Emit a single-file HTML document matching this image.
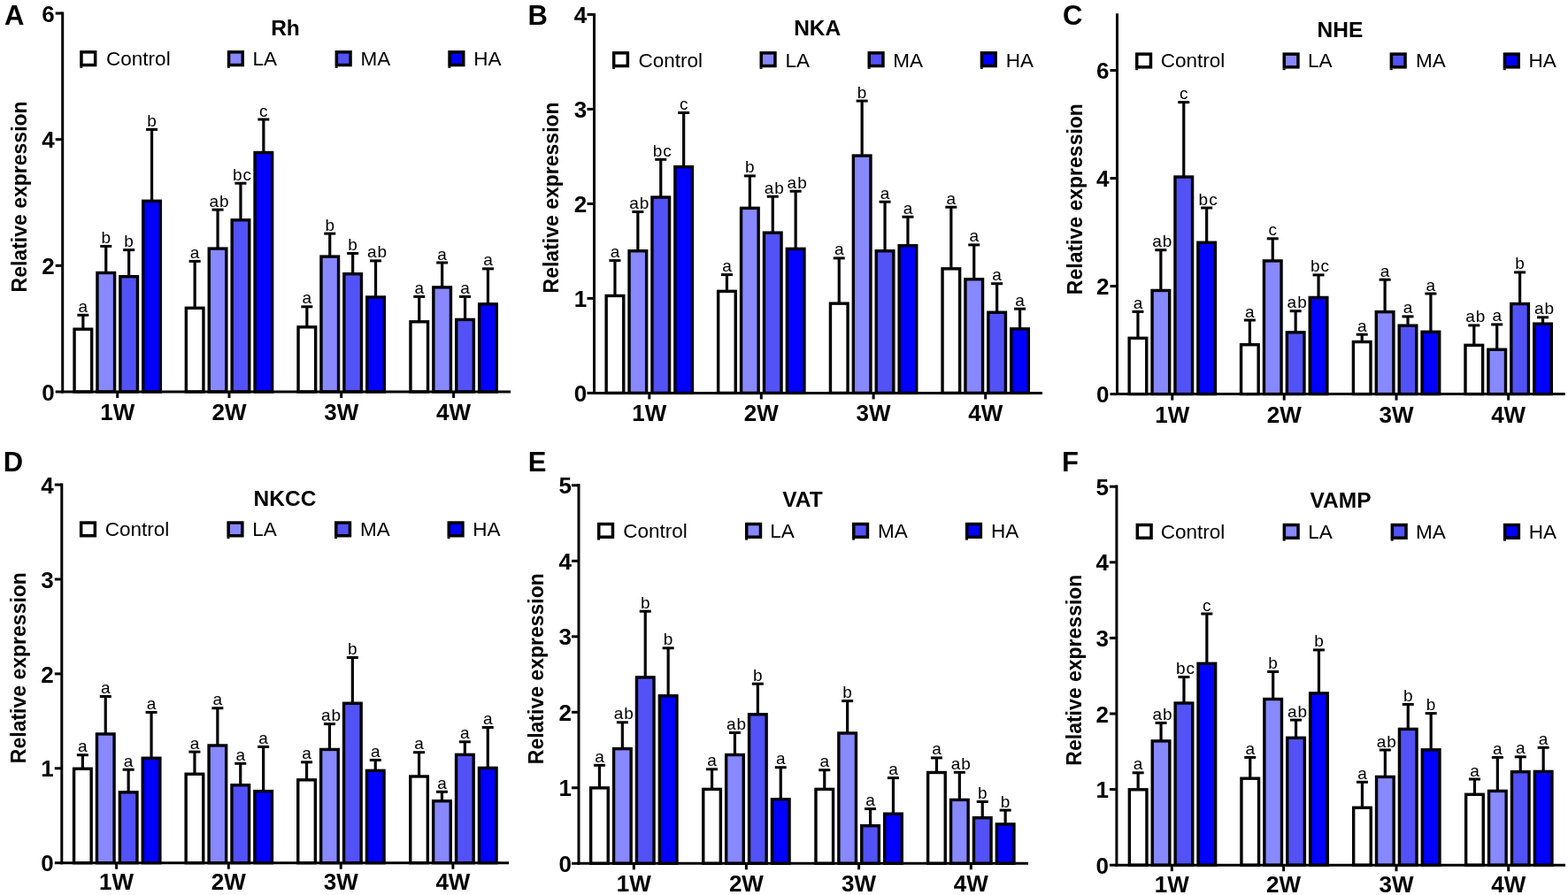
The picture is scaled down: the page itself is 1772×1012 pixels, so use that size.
<!DOCTYPE html>
<html><head><meta charset="utf-8"><title>Relative expression</title>
<style>
html,body{margin:0;padding:0;background:#fff;}
svg{display:block;}
text{font-family:"Liberation Sans",Arial,Helvetica,sans-serif;fill:#000;}
.b{stroke:#000;stroke-width:3.4px;}
.e{stroke:#000;stroke-width:3.2px;}
.c{stroke:#000;stroke-width:3px;}
.ax{stroke:#000;stroke-width:3.0px;}
.l{font-size:19px;letter-spacing:1px;text-anchor:middle;}
.tk{font-size:26px;font-weight:bold;text-anchor:end;}
.xl{font-size:26px;font-weight:bold;text-anchor:middle;}
.ti{font-size:24.5px;font-weight:bold;text-anchor:middle;}
.pl{font-size:31px;font-weight:bold;}
.yt{font-size:23px;font-weight:bold;text-anchor:middle;}
.lt{font-size:22.5px;}
.lg{stroke:#000;stroke-width:3.5px;}
</style></head>
<body>
<svg width="1772" height="1012" viewBox="0 0 1772 1012">
<rect x="0" y="0" width="1772" height="1012" fill="#fff"/>
<line x1="93.85" y1="371.5" x2="93.85" y2="356.3" class="e"/>
<line x1="87.35" y1="356.3" x2="100.35" y2="356.3" class="c"/>
<rect x="84.05" y="372.2" width="19.6" height="70.8" fill="#ffffff" class="b"/>
<text x="94.35" y="352.8" class="l">a</text>
<line x1="119.75" y1="307.8" x2="119.75" y2="278.4" class="e"/>
<line x1="113.25" y1="278.4" x2="126.25" y2="278.4" class="c"/>
<rect x="109.95" y="308.5" width="19.6" height="134.5" fill="#8888ff" class="b"/>
<text x="120.25" y="274.9" class="l">b</text>
<line x1="145.65" y1="312" x2="145.65" y2="282.6" class="e"/>
<line x1="139.15" y1="282.6" x2="152.15" y2="282.6" class="c"/>
<rect x="135.85" y="312.7" width="19.6" height="130.3" fill="#5252f6" class="b"/>
<text x="146.15" y="279.1" class="l">b</text>
<line x1="171.55" y1="226.6" x2="171.55" y2="146.4" class="e"/>
<line x1="165.05" y1="146.4" x2="178.05" y2="146.4" class="c"/>
<rect x="161.75" y="227.3" width="19.6" height="215.7" fill="#0000ff" class="b"/>
<text x="172.05" y="142.9" class="l">b</text>
<line x1="220.15" y1="347.6" x2="220.15" y2="295.4" class="e"/>
<line x1="213.65" y1="295.4" x2="226.65" y2="295.4" class="c"/>
<rect x="210.35" y="348.3" width="19.6" height="94.7" fill="#ffffff" class="b"/>
<text x="220.65" y="291.9" class="l">a</text>
<line x1="246.05" y1="280.4" x2="246.05" y2="237.1" class="e"/>
<line x1="239.55" y1="237.1" x2="252.55" y2="237.1" class="c"/>
<rect x="236.25" y="281.1" width="19.6" height="161.9" fill="#8888ff" class="b"/>
<text x="248.05" y="233.6" class="l">ab</text>
<line x1="271.95" y1="248.1" x2="271.95" y2="207.2" class="e"/>
<line x1="265.45" y1="207.2" x2="278.45" y2="207.2" class="c"/>
<rect x="262.15" y="248.8" width="19.6" height="194.2" fill="#5252f6" class="b"/>
<text x="273.95" y="203.7" class="l">bc</text>
<line x1="297.85" y1="171.8" x2="297.85" y2="135" class="e"/>
<line x1="291.35" y1="135" x2="304.35" y2="135" class="c"/>
<rect x="288.05" y="172.5" width="19.6" height="270.5" fill="#0000ff" class="b"/>
<text x="298.35" y="131.5" class="l">c</text>
<line x1="346.85" y1="369.1" x2="346.85" y2="346.8" class="e"/>
<line x1="340.35" y1="346.8" x2="353.35" y2="346.8" class="c"/>
<rect x="337.05" y="369.8" width="19.6" height="73.2" fill="#ffffff" class="b"/>
<text x="347.35" y="343.3" class="l">a</text>
<line x1="372.75" y1="289.4" x2="372.75" y2="264.1" class="e"/>
<line x1="366.25" y1="264.1" x2="379.25" y2="264.1" class="c"/>
<rect x="362.95" y="290.1" width="19.6" height="152.9" fill="#8888ff" class="b"/>
<text x="373.25" y="260.6" class="l">b</text>
<line x1="398.65" y1="309" x2="398.65" y2="286.5" class="e"/>
<line x1="392.15" y1="286.5" x2="405.15" y2="286.5" class="c"/>
<rect x="388.85" y="309.7" width="19.6" height="133.3" fill="#5252f6" class="b"/>
<text x="399.15" y="283" class="l">b</text>
<line x1="424.55" y1="335.3" x2="424.55" y2="294.9" class="e"/>
<line x1="418.05" y1="294.9" x2="431.05" y2="294.9" class="c"/>
<rect x="414.75" y="336" width="19.6" height="107" fill="#0000ff" class="b"/>
<text x="426.55" y="291.4" class="l">ab</text>
<line x1="473.75" y1="363.1" x2="473.75" y2="335.4" class="e"/>
<line x1="467.25" y1="335.4" x2="480.25" y2="335.4" class="c"/>
<rect x="463.95" y="363.8" width="19.6" height="79.2" fill="#ffffff" class="b"/>
<text x="474.25" y="331.9" class="l">a</text>
<line x1="499.65" y1="324.2" x2="499.65" y2="297" class="e"/>
<line x1="493.15" y1="297" x2="506.15" y2="297" class="c"/>
<rect x="489.85" y="324.9" width="19.6" height="118.1" fill="#8888ff" class="b"/>
<text x="500.15" y="293.5" class="l">a</text>
<line x1="525.55" y1="360.7" x2="525.55" y2="335.4" class="e"/>
<line x1="519.05" y1="335.4" x2="532.05" y2="335.4" class="c"/>
<rect x="515.75" y="361.4" width="19.6" height="81.6" fill="#5252f6" class="b"/>
<text x="526.05" y="331.9" class="l">a</text>
<line x1="551.45" y1="343.1" x2="551.45" y2="303.9" class="e"/>
<line x1="544.95" y1="303.9" x2="557.95" y2="303.9" class="c"/>
<rect x="541.65" y="343.8" width="19.6" height="99.2" fill="#0000ff" class="b"/>
<text x="551.95" y="300.4" class="l">a</text>
<line x1="70.7" y1="13.5" x2="70.7" y2="444.5" class="ax"/>
<line x1="69.2" y1="443" x2="577" y2="443" class="ax"/>
<line x1="62.7" y1="443" x2="70.7" y2="443" class="ax"/>
<text x="61.7" y="452.6" class="tk">0</text>
<line x1="62.7" y1="300.34" x2="70.7" y2="300.34" class="ax"/>
<text x="61.7" y="309.94" class="tk">2</text>
<line x1="62.7" y1="157.68" x2="70.7" y2="157.68" class="ax"/>
<text x="61.7" y="167.28" class="tk">4</text>
<line x1="62.7" y1="15.02" x2="70.7" y2="15.02" class="ax"/>
<text x="61.7" y="24.62" class="tk">6</text>
<line x1="132.7" y1="443" x2="132.7" y2="450" class="ax"/>
<text x="132.7" y="475" class="xl">1W</text>
<line x1="259" y1="443" x2="259" y2="450" class="ax"/>
<text x="259" y="475" class="xl">2W</text>
<line x1="385.7" y1="443" x2="385.7" y2="450" class="ax"/>
<text x="385.7" y="475" class="xl">3W</text>
<line x1="512.6" y1="443" x2="512.6" y2="450" class="ax"/>
<text x="512.6" y="475" class="xl">4W</text>
<text x="322.5" y="39.8" class="ti">Rh</text>
<text x="4.9" y="27.9" class="pl">A</text>
<text transform="translate(30.1 222.4) rotate(-90)" class="yt">Relative expression</text>
<rect x="91.95" y="58.85" width="15.7" height="14.7" fill="#ffffff" class="lg"/>
<rect x="90.3" y="75.2" width="3" height="1.7" fill="#000"/>
<text x="120.1" y="74" class="lt">Control</text>
<rect x="258.55" y="58.85" width="15.7" height="14.7" fill="#8888ff" class="lg"/>
<rect x="256.9" y="75.2" width="3" height="1.7" fill="#000"/>
<text x="285.5" y="74" class="lt">LA</text>
<rect x="380.35" y="58.85" width="15.7" height="14.7" fill="#5252f6" class="lg"/>
<rect x="378.7" y="75.2" width="3" height="1.7" fill="#000"/>
<text x="407.6" y="74" class="lt">MA</text>
<rect x="508.05" y="58.85" width="15.7" height="14.7" fill="#0000ff" class="lg"/>
<rect x="506.4" y="75.2" width="3" height="1.7" fill="#000"/>
<text x="535.3" y="74" class="lt">HA</text>
<line x1="694.95" y1="333.75" x2="694.95" y2="294.6" class="e"/>
<line x1="688.45" y1="294.6" x2="701.45" y2="294.6" class="c"/>
<rect x="685.15" y="334.45" width="19.6" height="109.95" fill="#ffffff" class="b"/>
<text x="695.45" y="291.1" class="l">a</text>
<line x1="720.85" y1="283.05" x2="720.85" y2="239.5" class="e"/>
<line x1="714.35" y1="239.5" x2="727.35" y2="239.5" class="c"/>
<rect x="711.05" y="283.75" width="19.6" height="160.65" fill="#8888ff" class="b"/>
<text x="722.85" y="236" class="l">ab</text>
<line x1="746.75" y1="222.35" x2="746.75" y2="180.3" class="e"/>
<line x1="740.25" y1="180.3" x2="753.25" y2="180.3" class="c"/>
<rect x="736.95" y="223.05" width="19.6" height="221.35" fill="#5252f6" class="b"/>
<text x="748.75" y="176.8" class="l">bc</text>
<line x1="772.65" y1="187.95" x2="772.65" y2="127.5" class="e"/>
<line x1="766.15" y1="127.5" x2="779.15" y2="127.5" class="c"/>
<rect x="762.85" y="188.65" width="19.6" height="255.75" fill="#0000ff" class="b"/>
<text x="773.15" y="124" class="l">c</text>
<line x1="821.45" y1="328.65" x2="821.45" y2="310.6" class="e"/>
<line x1="814.95" y1="310.6" x2="827.95" y2="310.6" class="c"/>
<rect x="811.65" y="329.35" width="19.6" height="115.05" fill="#ffffff" class="b"/>
<text x="821.95" y="307.1" class="l">a</text>
<line x1="847.35" y1="234.65" x2="847.35" y2="198.9" class="e"/>
<line x1="840.85" y1="198.9" x2="853.85" y2="198.9" class="c"/>
<rect x="837.55" y="235.35" width="19.6" height="209.05" fill="#8888ff" class="b"/>
<text x="847.85" y="195.4" class="l">b</text>
<line x1="873.25" y1="262.45" x2="873.25" y2="222.2" class="e"/>
<line x1="866.75" y1="222.2" x2="879.75" y2="222.2" class="c"/>
<rect x="863.45" y="263.15" width="19.6" height="181.25" fill="#5252f6" class="b"/>
<text x="875.25" y="218.7" class="l">ab</text>
<line x1="899.15" y1="280.65" x2="899.15" y2="216.2" class="e"/>
<line x1="892.65" y1="216.2" x2="905.65" y2="216.2" class="c"/>
<rect x="889.35" y="281.35" width="19.6" height="163.05" fill="#0000ff" class="b"/>
<text x="901.15" y="212.7" class="l">ab</text>
<line x1="948.25" y1="342.45" x2="948.25" y2="291.9" class="e"/>
<line x1="941.75" y1="291.9" x2="954.75" y2="291.9" class="c"/>
<rect x="938.45" y="343.15" width="19.6" height="101.25" fill="#ffffff" class="b"/>
<text x="948.75" y="288.4" class="l">a</text>
<line x1="974.15" y1="175.35" x2="974.15" y2="114.1" class="e"/>
<line x1="967.65" y1="114.1" x2="980.65" y2="114.1" class="c"/>
<rect x="964.35" y="176.05" width="19.6" height="268.35" fill="#8888ff" class="b"/>
<text x="974.65" y="110.6" class="l">b</text>
<line x1="1000.05" y1="283.05" x2="1000.05" y2="228.2" class="e"/>
<line x1="993.55" y1="228.2" x2="1006.55" y2="228.2" class="c"/>
<rect x="990.25" y="283.75" width="19.6" height="160.65" fill="#5252f6" class="b"/>
<text x="1000.55" y="224.7" class="l">a</text>
<line x1="1025.95" y1="277.05" x2="1025.95" y2="245.2" class="e"/>
<line x1="1019.45" y1="245.2" x2="1032.45" y2="245.2" class="c"/>
<rect x="1016.15" y="277.75" width="19.6" height="166.65" fill="#0000ff" class="b"/>
<text x="1026.45" y="241.7" class="l">a</text>
<line x1="1074.85" y1="303.15" x2="1074.85" y2="234.2" class="e"/>
<line x1="1068.35" y1="234.2" x2="1081.35" y2="234.2" class="c"/>
<rect x="1065.05" y="303.85" width="19.6" height="140.55" fill="#ffffff" class="b"/>
<text x="1075.35" y="230.7" class="l">a</text>
<line x1="1100.75" y1="315.05" x2="1100.75" y2="276.9" class="e"/>
<line x1="1094.25" y1="276.9" x2="1107.25" y2="276.9" class="c"/>
<rect x="1090.95" y="315.75" width="19.6" height="128.65" fill="#8888ff" class="b"/>
<text x="1101.25" y="273.4" class="l">a</text>
<line x1="1126.65" y1="352.55" x2="1126.65" y2="320.7" class="e"/>
<line x1="1120.15" y1="320.7" x2="1133.15" y2="320.7" class="c"/>
<rect x="1116.85" y="353.25" width="19.6" height="91.15" fill="#5252f6" class="b"/>
<text x="1127.15" y="317.2" class="l">a</text>
<line x1="1152.55" y1="371.15" x2="1152.55" y2="349.2" class="e"/>
<line x1="1146.05" y1="349.2" x2="1159.05" y2="349.2" class="c"/>
<rect x="1142.75" y="371.85" width="19.6" height="72.55" fill="#0000ff" class="b"/>
<text x="1153.05" y="345.7" class="l">a</text>
<line x1="671.5" y1="14.9" x2="671.5" y2="445.9" class="ax"/>
<line x1="670" y1="444.4" x2="1178" y2="444.4" class="ax"/>
<line x1="663.5" y1="444.4" x2="671.5" y2="444.4" class="ax"/>
<text x="663.3" y="454" class="tk">0</text>
<line x1="663.5" y1="337.4" x2="671.5" y2="337.4" class="ax"/>
<text x="663.3" y="347" class="tk">1</text>
<line x1="663.5" y1="230.4" x2="671.5" y2="230.4" class="ax"/>
<text x="663.3" y="240" class="tk">2</text>
<line x1="663.5" y1="123.4" x2="671.5" y2="123.4" class="ax"/>
<text x="663.3" y="133" class="tk">3</text>
<line x1="663.5" y1="16.4" x2="671.5" y2="16.4" class="ax"/>
<text x="663.3" y="26" class="tk">4</text>
<line x1="733.8" y1="444.4" x2="733.8" y2="451.4" class="ax"/>
<text x="733.8" y="476" class="xl">1W</text>
<line x1="860.3" y1="444.4" x2="860.3" y2="451.4" class="ax"/>
<text x="860.3" y="476" class="xl">2W</text>
<line x1="987.1" y1="444.4" x2="987.1" y2="451.4" class="ax"/>
<text x="987.1" y="476" class="xl">3W</text>
<line x1="1113.7" y1="444.4" x2="1113.7" y2="451.4" class="ax"/>
<text x="1113.7" y="476" class="xl">4W</text>
<text x="923.7" y="40.4" class="ti">NKA</text>
<text x="596.6" y="27.9" class="pl">B</text>
<text transform="translate(631.3 223.4) rotate(-90)" class="yt">Relative expression</text>
<rect x="693.65" y="59.85" width="15.7" height="14.7" fill="#ffffff" class="lg"/>
<rect x="692" y="76.2" width="3" height="1.7" fill="#000"/>
<text x="721.5" y="75.7" class="lt">Control</text>
<rect x="860.25" y="59.85" width="15.7" height="14.7" fill="#8888ff" class="lg"/>
<rect x="858.6" y="76.2" width="3" height="1.7" fill="#000"/>
<text x="887.5" y="75.7" class="lt">LA</text>
<rect x="982.25" y="59.85" width="15.7" height="14.7" fill="#5252f6" class="lg"/>
<rect x="980.6" y="76.2" width="3" height="1.7" fill="#000"/>
<text x="1009.2" y="75.7" class="lt">MA</text>
<rect x="1109.45" y="59.85" width="15.7" height="14.7" fill="#0000ff" class="lg"/>
<rect x="1107.8" y="76.2" width="3" height="1.7" fill="#000"/>
<text x="1136.7" y="75.7" class="lt">HA</text>
<line x1="1285.95" y1="381.65" x2="1285.95" y2="352.4" class="e"/>
<line x1="1279.45" y1="352.4" x2="1292.45" y2="352.4" class="c"/>
<rect x="1276.15" y="382.35" width="19.6" height="63.25" fill="#ffffff" class="b"/>
<text x="1286.45" y="348.9" class="l">a</text>
<line x1="1311.85" y1="327.75" x2="1311.85" y2="282.7" class="e"/>
<line x1="1305.35" y1="282.7" x2="1318.35" y2="282.7" class="c"/>
<rect x="1302.05" y="328.45" width="19.6" height="117.15" fill="#8888ff" class="b"/>
<text x="1313.85" y="279.2" class="l">ab</text>
<line x1="1337.75" y1="199.35" x2="1337.75" y2="115.6" class="e"/>
<line x1="1331.25" y1="115.6" x2="1344.25" y2="115.6" class="c"/>
<rect x="1327.95" y="200.05" width="19.6" height="245.55" fill="#5252f6" class="b"/>
<text x="1338.25" y="112.1" class="l">c</text>
<line x1="1363.65" y1="273.55" x2="1363.65" y2="235" class="e"/>
<line x1="1357.15" y1="235" x2="1370.15" y2="235" class="c"/>
<rect x="1353.85" y="274.25" width="19.6" height="171.35" fill="#0000ff" class="b"/>
<text x="1365.65" y="231.5" class="l">bc</text>
<line x1="1412.35" y1="389.05" x2="1412.35" y2="362" class="e"/>
<line x1="1405.85" y1="362" x2="1418.85" y2="362" class="c"/>
<rect x="1402.55" y="389.75" width="19.6" height="55.85" fill="#ffffff" class="b"/>
<text x="1412.85" y="358.5" class="l">a</text>
<line x1="1438.25" y1="294.25" x2="1438.25" y2="269.8" class="e"/>
<line x1="1431.75" y1="269.8" x2="1444.75" y2="269.8" class="c"/>
<rect x="1428.45" y="294.95" width="19.6" height="150.65" fill="#8888ff" class="b"/>
<text x="1438.75" y="266.3" class="l">c</text>
<line x1="1464.15" y1="375.15" x2="1464.15" y2="351.7" class="e"/>
<line x1="1457.65" y1="351.7" x2="1470.65" y2="351.7" class="c"/>
<rect x="1454.35" y="375.85" width="19.6" height="69.75" fill="#5252f6" class="b"/>
<text x="1466.15" y="348.2" class="l">ab</text>
<line x1="1490.05" y1="335.75" x2="1490.05" y2="310.9" class="e"/>
<line x1="1483.55" y1="310.9" x2="1496.55" y2="310.9" class="c"/>
<rect x="1480.25" y="336.45" width="19.6" height="109.15" fill="#0000ff" class="b"/>
<text x="1492.05" y="307.4" class="l">bc</text>
<line x1="1539.2" y1="385.85" x2="1539.2" y2="378.2" class="e"/>
<line x1="1532.7" y1="378.2" x2="1545.7" y2="378.2" class="c"/>
<rect x="1529.4" y="386.55" width="19.6" height="59.05" fill="#ffffff" class="b"/>
<text x="1539.7" y="374.7" class="l">a</text>
<line x1="1565.1" y1="351.95" x2="1565.1" y2="316.2" class="e"/>
<line x1="1558.6" y1="316.2" x2="1571.6" y2="316.2" class="c"/>
<rect x="1555.3" y="352.65" width="19.6" height="92.95" fill="#8888ff" class="b"/>
<text x="1565.6" y="312.7" class="l">a</text>
<line x1="1591" y1="367.45" x2="1591" y2="357.9" class="e"/>
<line x1="1584.5" y1="357.9" x2="1597.5" y2="357.9" class="c"/>
<rect x="1581.2" y="368.15" width="19.6" height="77.45" fill="#5252f6" class="b"/>
<text x="1591.5" y="354.4" class="l">a</text>
<line x1="1616.9" y1="374.55" x2="1616.9" y2="332" class="e"/>
<line x1="1610.4" y1="332" x2="1623.4" y2="332" class="c"/>
<rect x="1607.1" y="375.25" width="19.6" height="70.35" fill="#0000ff" class="b"/>
<text x="1617.4" y="328.5" class="l">a</text>
<line x1="1665.8" y1="389.65" x2="1665.8" y2="367.9" class="e"/>
<line x1="1659.3" y1="367.9" x2="1672.3" y2="367.9" class="c"/>
<rect x="1656" y="390.35" width="19.6" height="55.25" fill="#ffffff" class="b"/>
<text x="1667.8" y="364.4" class="l">ab</text>
<line x1="1691.7" y1="394.55" x2="1691.7" y2="366.9" class="e"/>
<line x1="1685.2" y1="366.9" x2="1698.2" y2="366.9" class="c"/>
<rect x="1681.9" y="395.25" width="19.6" height="50.35" fill="#8888ff" class="b"/>
<text x="1692.2" y="363.4" class="l">a</text>
<line x1="1717.6" y1="342.85" x2="1717.6" y2="307.9" class="e"/>
<line x1="1711.1" y1="307.9" x2="1724.1" y2="307.9" class="c"/>
<rect x="1707.8" y="343.55" width="19.6" height="102.05" fill="#5252f6" class="b"/>
<text x="1718.1" y="304.4" class="l">b</text>
<line x1="1743.5" y1="365.45" x2="1743.5" y2="358.8" class="e"/>
<line x1="1737" y1="358.8" x2="1750" y2="358.8" class="c"/>
<rect x="1733.7" y="366.15" width="19.6" height="79.45" fill="#0000ff" class="b"/>
<text x="1745.5" y="355.3" class="l">ab</text>
<line x1="1262.5" y1="15.3" x2="1262.5" y2="447.1" class="ax"/>
<line x1="1261" y1="445.6" x2="1768.8" y2="445.6" class="ax"/>
<line x1="1254.5" y1="445.6" x2="1262.5" y2="445.6" class="ax"/>
<text x="1253.5" y="455.2" class="tk">0</text>
<line x1="1254.5" y1="323.6" x2="1262.5" y2="323.6" class="ax"/>
<text x="1253.5" y="333.2" class="tk">2</text>
<line x1="1254.5" y1="201.6" x2="1262.5" y2="201.6" class="ax"/>
<text x="1253.5" y="211.2" class="tk">4</text>
<line x1="1254.5" y1="79.6" x2="1262.5" y2="79.6" class="ax"/>
<text x="1253.5" y="89.2" class="tk">6</text>
<line x1="1324.8" y1="445.6" x2="1324.8" y2="452.6" class="ax"/>
<text x="1324.8" y="477.5" class="xl">1W</text>
<line x1="1451.2" y1="445.6" x2="1451.2" y2="452.6" class="ax"/>
<text x="1451.2" y="477.5" class="xl">2W</text>
<line x1="1578.05" y1="445.6" x2="1578.05" y2="452.6" class="ax"/>
<text x="1578.05" y="477.5" class="xl">3W</text>
<line x1="1704.65" y1="445.6" x2="1704.65" y2="452.6" class="ax"/>
<text x="1704.65" y="477.5" class="xl">4W</text>
<text x="1514.4" y="42" class="ti">NHE</text>
<text x="1200.9" y="28.2" class="pl">C</text>
<text transform="translate(1222.8 225.1) rotate(-90)" class="yt">Relative expression</text>
<rect x="1284.75" y="61.15" width="15.7" height="14.7" fill="#ffffff" class="lg"/>
<rect x="1283.1" y="77.5" width="3" height="1.7" fill="#000"/>
<text x="1311.8" y="76.4" class="lt">Control</text>
<rect x="1451.25" y="61.15" width="15.7" height="14.7" fill="#8888ff" class="lg"/>
<rect x="1449.6" y="77.5" width="3" height="1.7" fill="#000"/>
<text x="1478.1" y="76.4" class="lt">LA</text>
<rect x="1572.35" y="61.15" width="15.7" height="14.7" fill="#5252f6" class="lg"/>
<rect x="1570.7" y="77.5" width="3" height="1.7" fill="#000"/>
<text x="1600.1" y="76.4" class="lt">MA</text>
<rect x="1700.45" y="61.15" width="15.7" height="14.7" fill="#0000ff" class="lg"/>
<rect x="1698.8" y="77.5" width="3" height="1.7" fill="#000"/>
<text x="1727.6" y="76.4" class="lt">HA</text>
<line x1="93.35" y1="868.55" x2="93.35" y2="853.7" class="e"/>
<line x1="86.85" y1="853.7" x2="99.85" y2="853.7" class="c"/>
<rect x="83.55" y="869.25" width="19.6" height="106.45" fill="#ffffff" class="b"/>
<text x="93.85" y="850.2" class="l">a</text>
<line x1="119.25" y1="829.25" x2="119.25" y2="787.5" class="e"/>
<line x1="112.75" y1="787.5" x2="125.75" y2="787.5" class="c"/>
<rect x="109.45" y="829.95" width="19.6" height="145.75" fill="#8888ff" class="b"/>
<text x="119.75" y="784" class="l">a</text>
<line x1="145.15" y1="895.15" x2="145.15" y2="870.2" class="e"/>
<line x1="138.65" y1="870.2" x2="151.65" y2="870.2" class="c"/>
<rect x="135.35" y="895.85" width="19.6" height="79.85" fill="#5252f6" class="b"/>
<text x="145.65" y="866.7" class="l">a</text>
<line x1="171.05" y1="856.55" x2="171.05" y2="805.4" class="e"/>
<line x1="164.55" y1="805.4" x2="177.55" y2="805.4" class="c"/>
<rect x="161.25" y="857.25" width="19.6" height="118.45" fill="#0000ff" class="b"/>
<text x="171.55" y="801.9" class="l">a</text>
<line x1="219.95" y1="874.55" x2="219.95" y2="850.1" class="e"/>
<line x1="213.45" y1="850.1" x2="226.45" y2="850.1" class="c"/>
<rect x="210.15" y="875.25" width="19.6" height="100.45" fill="#ffffff" class="b"/>
<text x="220.45" y="846.6" class="l">a</text>
<line x1="245.85" y1="842.25" x2="245.85" y2="800.7" class="e"/>
<line x1="239.35" y1="800.7" x2="252.35" y2="800.7" class="c"/>
<rect x="236.05" y="842.95" width="19.6" height="132.75" fill="#8888ff" class="b"/>
<text x="246.35" y="797.2" class="l">a</text>
<line x1="271.75" y1="887.05" x2="271.75" y2="863.3" class="e"/>
<line x1="265.25" y1="863.3" x2="278.25" y2="863.3" class="c"/>
<rect x="261.95" y="887.75" width="19.6" height="87.95" fill="#5252f6" class="b"/>
<text x="272.25" y="859.8" class="l">a</text>
<line x1="297.65" y1="893.95" x2="297.65" y2="844.4" class="e"/>
<line x1="291.15" y1="844.4" x2="304.15" y2="844.4" class="c"/>
<rect x="287.85" y="894.65" width="19.6" height="81.05" fill="#0000ff" class="b"/>
<text x="298.15" y="840.9" class="l">a</text>
<line x1="346.55" y1="881.15" x2="346.55" y2="861.8" class="e"/>
<line x1="340.05" y1="861.8" x2="353.05" y2="861.8" class="c"/>
<rect x="336.75" y="881.85" width="19.6" height="93.85" fill="#ffffff" class="b"/>
<text x="347.05" y="858.3" class="l">a</text>
<line x1="372.45" y1="846.75" x2="372.45" y2="818.6" class="e"/>
<line x1="365.95" y1="818.6" x2="378.95" y2="818.6" class="c"/>
<rect x="362.65" y="847.45" width="19.6" height="128.25" fill="#8888ff" class="b"/>
<text x="374.45" y="815.1" class="l">ab</text>
<line x1="398.35" y1="794.55" x2="398.35" y2="743.5" class="e"/>
<line x1="391.85" y1="743.5" x2="404.85" y2="743.5" class="c"/>
<rect x="388.55" y="795.25" width="19.6" height="180.45" fill="#5252f6" class="b"/>
<text x="398.85" y="740" class="l">b</text>
<line x1="424.25" y1="870.65" x2="424.25" y2="859.4" class="e"/>
<line x1="417.75" y1="859.4" x2="430.75" y2="859.4" class="c"/>
<rect x="414.45" y="871.35" width="19.6" height="104.35" fill="#0000ff" class="b"/>
<text x="424.75" y="855.9" class="l">a</text>
<line x1="473.55" y1="877.25" x2="473.55" y2="850.7" class="e"/>
<line x1="467.05" y1="850.7" x2="480.05" y2="850.7" class="c"/>
<rect x="463.75" y="877.95" width="19.6" height="97.75" fill="#ffffff" class="b"/>
<text x="474.05" y="847.2" class="l">a</text>
<line x1="499.45" y1="905.05" x2="499.45" y2="895.3" class="e"/>
<line x1="492.95" y1="895.3" x2="505.95" y2="895.3" class="c"/>
<rect x="489.65" y="905.75" width="19.6" height="69.95" fill="#8888ff" class="b"/>
<text x="499.95" y="891.8" class="l">a</text>
<line x1="525.35" y1="852.65" x2="525.35" y2="838.8" class="e"/>
<line x1="518.85" y1="838.8" x2="531.85" y2="838.8" class="c"/>
<rect x="515.55" y="853.35" width="19.6" height="122.35" fill="#5252f6" class="b"/>
<text x="525.85" y="835.3" class="l">a</text>
<line x1="551.25" y1="867.65" x2="551.25" y2="822.5" class="e"/>
<line x1="544.75" y1="822.5" x2="557.75" y2="822.5" class="c"/>
<rect x="541.45" y="868.35" width="19.6" height="107.35" fill="#0000ff" class="b"/>
<text x="551.75" y="819" class="l">a</text>
<line x1="69.8" y1="546.5" x2="69.8" y2="977.2" class="ax"/>
<line x1="68.3" y1="975.7" x2="575.1" y2="975.7" class="ax"/>
<line x1="61.8" y1="975.7" x2="69.8" y2="975.7" class="ax"/>
<text x="60.8" y="985.3" class="tk">0</text>
<line x1="61.8" y1="868.8" x2="69.8" y2="868.8" class="ax"/>
<text x="60.8" y="878.4" class="tk">1</text>
<line x1="61.8" y1="761.9" x2="69.8" y2="761.9" class="ax"/>
<text x="60.8" y="771.5" class="tk">2</text>
<line x1="61.8" y1="655" x2="69.8" y2="655" class="ax"/>
<text x="60.8" y="664.6" class="tk">3</text>
<line x1="61.8" y1="548.1" x2="69.8" y2="548.1" class="ax"/>
<text x="60.8" y="557.7" class="tk">4</text>
<line x1="131.6" y1="975.7" x2="131.6" y2="982.7" class="ax"/>
<text x="131.6" y="1006.2" class="xl">1W</text>
<line x1="258.3" y1="975.7" x2="258.3" y2="982.7" class="ax"/>
<text x="258.3" y="1006.2" class="xl">2W</text>
<line x1="385.2" y1="975.7" x2="385.2" y2="982.7" class="ax"/>
<text x="385.2" y="1006.2" class="xl">3W</text>
<line x1="511.9" y1="975.7" x2="511.9" y2="982.7" class="ax"/>
<text x="511.9" y="1006.2" class="xl">4W</text>
<text x="322" y="571.6" class="ti">NKCC</text>
<text x="3.7" y="532.9" class="pl">D</text>
<text transform="translate(28.6 755.1) rotate(-90)" class="yt">Relative expression</text>
<rect x="91.65" y="591.05" width="15.7" height="14.7" fill="#ffffff" class="lg"/>
<text x="118.7" y="606" class="lt">Control</text>
<rect x="258.15" y="591.05" width="15.7" height="14.7" fill="#8888ff" class="lg"/>
<rect x="256.5" y="607.4" width="3" height="1.7" fill="#000"/>
<text x="285.2" y="606" class="lt">LA</text>
<rect x="379.75" y="591.05" width="15.7" height="14.7" fill="#5252f6" class="lg"/>
<rect x="378.1" y="607.4" width="3" height="1.7" fill="#000"/>
<text x="407.1" y="606" class="lt">MA</text>
<rect x="507.25" y="591.05" width="15.7" height="14.7" fill="#0000ff" class="lg"/>
<rect x="505.6" y="607.4" width="3" height="1.7" fill="#000"/>
<text x="534.3" y="606" class="lt">HA</text>
<line x1="677.45" y1="890.2" x2="677.45" y2="865.3" class="e"/>
<line x1="670.95" y1="865.3" x2="683.95" y2="865.3" class="c"/>
<rect x="667.65" y="890.9" width="19.6" height="85.4" fill="#ffffff" class="b"/>
<text x="677.95" y="861.8" class="l">a</text>
<line x1="703.35" y1="845.9" x2="703.35" y2="816.8" class="e"/>
<line x1="696.85" y1="816.8" x2="709.85" y2="816.8" class="c"/>
<rect x="693.55" y="846.6" width="19.6" height="129.7" fill="#8888ff" class="b"/>
<text x="705.35" y="813.3" class="l">ab</text>
<line x1="729.25" y1="765.2" x2="729.25" y2="691.2" class="e"/>
<line x1="722.75" y1="691.2" x2="735.75" y2="691.2" class="c"/>
<rect x="719.45" y="765.9" width="19.6" height="210.4" fill="#5252f6" class="b"/>
<text x="729.75" y="687.7" class="l">b</text>
<line x1="755.15" y1="786.1" x2="755.15" y2="732.8" class="e"/>
<line x1="748.65" y1="732.8" x2="761.65" y2="732.8" class="c"/>
<rect x="745.35" y="786.8" width="19.6" height="189.5" fill="#0000ff" class="b"/>
<text x="755.65" y="729.3" class="l">b</text>
<line x1="804.55" y1="891.7" x2="804.55" y2="869.8" class="e"/>
<line x1="798.05" y1="869.8" x2="811.05" y2="869.8" class="c"/>
<rect x="794.75" y="892.4" width="19.6" height="83.9" fill="#ffffff" class="b"/>
<text x="805.05" y="866.3" class="l">a</text>
<line x1="830.45" y1="852.8" x2="830.45" y2="828.5" class="e"/>
<line x1="823.95" y1="828.5" x2="836.95" y2="828.5" class="c"/>
<rect x="820.65" y="853.5" width="19.6" height="122.8" fill="#8888ff" class="b"/>
<text x="832.45" y="825" class="l">ab</text>
<line x1="856.35" y1="807.1" x2="856.35" y2="773.2" class="e"/>
<line x1="849.85" y1="773.2" x2="862.85" y2="773.2" class="c"/>
<rect x="846.55" y="807.8" width="19.6" height="168.5" fill="#5252f6" class="b"/>
<text x="856.85" y="769.7" class="l">b</text>
<line x1="882.25" y1="903.1" x2="882.25" y2="867.7" class="e"/>
<line x1="875.75" y1="867.7" x2="888.75" y2="867.7" class="c"/>
<rect x="872.45" y="903.8" width="19.6" height="72.5" fill="#0000ff" class="b"/>
<text x="882.75" y="864.2" class="l">a</text>
<line x1="931.75" y1="891.7" x2="931.75" y2="870.7" class="e"/>
<line x1="925.25" y1="870.7" x2="938.25" y2="870.7" class="c"/>
<rect x="921.95" y="892.4" width="19.6" height="83.9" fill="#ffffff" class="b"/>
<text x="932.25" y="867.2" class="l">a</text>
<line x1="957.65" y1="828.3" x2="957.65" y2="792.6" class="e"/>
<line x1="951.15" y1="792.6" x2="964.15" y2="792.6" class="c"/>
<rect x="947.85" y="829" width="19.6" height="147.3" fill="#8888ff" class="b"/>
<text x="958.15" y="789.1" class="l">b</text>
<line x1="983.55" y1="933" x2="983.55" y2="914.6" class="e"/>
<line x1="977.05" y1="914.6" x2="990.05" y2="914.6" class="c"/>
<rect x="973.75" y="933.7" width="19.6" height="42.6" fill="#5252f6" class="b"/>
<text x="984.05" y="911.1" class="l">a</text>
<line x1="1009.45" y1="919.5" x2="1009.45" y2="879.6" class="e"/>
<line x1="1002.95" y1="879.6" x2="1015.95" y2="879.6" class="c"/>
<rect x="999.65" y="920.2" width="19.6" height="56.1" fill="#0000ff" class="b"/>
<text x="1009.95" y="876.1" class="l">a</text>
<line x1="1058.45" y1="872.8" x2="1058.45" y2="856.9" class="e"/>
<line x1="1051.95" y1="856.9" x2="1064.95" y2="856.9" class="c"/>
<rect x="1048.65" y="873.5" width="19.6" height="102.8" fill="#ffffff" class="b"/>
<text x="1058.95" y="853.4" class="l">a</text>
<line x1="1084.35" y1="903.7" x2="1084.35" y2="873.3" class="e"/>
<line x1="1077.85" y1="873.3" x2="1090.85" y2="873.3" class="c"/>
<rect x="1074.55" y="904.4" width="19.6" height="71.9" fill="#8888ff" class="b"/>
<text x="1086.35" y="869.8" class="l">ab</text>
<line x1="1110.25" y1="924" x2="1110.25" y2="906.5" class="e"/>
<line x1="1103.75" y1="906.5" x2="1116.75" y2="906.5" class="c"/>
<rect x="1100.45" y="924.7" width="19.6" height="51.6" fill="#5252f6" class="b"/>
<text x="1110.75" y="903" class="l">b</text>
<line x1="1136.15" y1="931.2" x2="1136.15" y2="916.1" class="e"/>
<line x1="1129.65" y1="916.1" x2="1142.65" y2="916.1" class="c"/>
<rect x="1126.35" y="931.9" width="19.6" height="44.4" fill="#0000ff" class="b"/>
<text x="1136.65" y="912.6" class="l">b</text>
<line x1="654" y1="547.1" x2="654" y2="977.8" class="ax"/>
<line x1="652.5" y1="976.3" x2="1162" y2="976.3" class="ax"/>
<line x1="646" y1="976.3" x2="654" y2="976.3" class="ax"/>
<text x="645.9" y="985.9" class="tk">0</text>
<line x1="646" y1="890.8" x2="654" y2="890.8" class="ax"/>
<text x="645.9" y="900.4" class="tk">1</text>
<line x1="646" y1="805.3" x2="654" y2="805.3" class="ax"/>
<text x="645.9" y="814.9" class="tk">2</text>
<line x1="646" y1="719.8" x2="654" y2="719.8" class="ax"/>
<text x="645.9" y="729.4" class="tk">3</text>
<line x1="646" y1="634.3" x2="654" y2="634.3" class="ax"/>
<text x="645.9" y="643.9" class="tk">4</text>
<line x1="646" y1="548.8" x2="654" y2="548.8" class="ax"/>
<text x="645.9" y="558.4" class="tk">5</text>
<line x1="716.3" y1="976.3" x2="716.3" y2="983.3" class="ax"/>
<text x="716.3" y="1008" class="xl">1W</text>
<line x1="843.4" y1="976.3" x2="843.4" y2="983.3" class="ax"/>
<text x="843.4" y="1008" class="xl">2W</text>
<line x1="970.6" y1="976.3" x2="970.6" y2="983.3" class="ax"/>
<text x="970.6" y="1008" class="xl">3W</text>
<line x1="1097.3" y1="976.3" x2="1097.3" y2="983.3" class="ax"/>
<text x="1097.3" y="1008" class="xl">4W</text>
<text x="907" y="573.4" class="ti">VAT</text>
<text x="596.7" y="532.6" class="pl">E</text>
<text transform="translate(614 756.2) rotate(-90)" class="yt">Relative expression</text>
<rect x="676.75" y="592.55" width="15.7" height="14.7" fill="#ffffff" class="lg"/>
<rect x="675.1" y="608.9" width="3" height="1.7" fill="#000"/>
<text x="704.2" y="607.7" class="lt">Control</text>
<rect x="843.75" y="592.55" width="15.7" height="14.7" fill="#8888ff" class="lg"/>
<rect x="842.1" y="608.9" width="3" height="1.7" fill="#000"/>
<text x="870.3" y="607.7" class="lt">LA</text>
<rect x="964.75" y="592.55" width="15.7" height="14.7" fill="#5252f6" class="lg"/>
<rect x="963.1" y="608.9" width="3" height="1.7" fill="#000"/>
<text x="991.9" y="607.7" class="lt">MA</text>
<rect x="1092.65" y="592.55" width="15.7" height="14.7" fill="#0000ff" class="lg"/>
<rect x="1091" y="608.9" width="3" height="1.7" fill="#000"/>
<text x="1120.1" y="607.7" class="lt">HA</text>
<line x1="1286.15" y1="892.1" x2="1286.15" y2="873.8" class="e"/>
<line x1="1279.65" y1="873.8" x2="1292.65" y2="873.8" class="c"/>
<rect x="1276.35" y="892.8" width="19.6" height="85.4" fill="#ffffff" class="b"/>
<text x="1286.65" y="870.3" class="l">a</text>
<line x1="1312.05" y1="837.2" x2="1312.05" y2="817.4" class="e"/>
<line x1="1305.55" y1="817.4" x2="1318.55" y2="817.4" class="c"/>
<rect x="1302.25" y="837.9" width="19.6" height="140.3" fill="#8888ff" class="b"/>
<text x="1314.05" y="813.9" class="l">ab</text>
<line x1="1337.95" y1="794.3" x2="1337.95" y2="765.5" class="e"/>
<line x1="1331.45" y1="765.5" x2="1344.45" y2="765.5" class="c"/>
<rect x="1328.15" y="795" width="19.6" height="183.2" fill="#5252f6" class="b"/>
<text x="1339.95" y="762" class="l">bc</text>
<line x1="1363.85" y1="749.6" x2="1363.85" y2="694" class="e"/>
<line x1="1357.35" y1="694" x2="1370.35" y2="694" class="c"/>
<rect x="1354.05" y="750.3" width="19.6" height="227.9" fill="#0000ff" class="b"/>
<text x="1364.35" y="690.5" class="l">c</text>
<line x1="1412.75" y1="879.5" x2="1412.75" y2="856.4" class="e"/>
<line x1="1406.25" y1="856.4" x2="1419.25" y2="856.4" class="c"/>
<rect x="1402.95" y="880.2" width="19.6" height="98" fill="#ffffff" class="b"/>
<text x="1413.25" y="852.9" class="l">a</text>
<line x1="1438.65" y1="789.8" x2="1438.65" y2="759.5" class="e"/>
<line x1="1432.15" y1="759.5" x2="1445.15" y2="759.5" class="c"/>
<rect x="1428.85" y="790.5" width="19.6" height="187.7" fill="#8888ff" class="b"/>
<text x="1439.15" y="756" class="l">b</text>
<line x1="1464.55" y1="833.6" x2="1464.55" y2="814.1" class="e"/>
<line x1="1458.05" y1="814.1" x2="1471.05" y2="814.1" class="c"/>
<rect x="1454.75" y="834.3" width="19.6" height="143.9" fill="#5252f6" class="b"/>
<text x="1466.55" y="810.6" class="l">ab</text>
<line x1="1490.45" y1="783.2" x2="1490.45" y2="734.9" class="e"/>
<line x1="1483.95" y1="734.9" x2="1496.95" y2="734.9" class="c"/>
<rect x="1480.65" y="783.9" width="19.6" height="194.3" fill="#0000ff" class="b"/>
<text x="1490.95" y="731.4" class="l">b</text>
<line x1="1539.45" y1="912.6" x2="1539.45" y2="884.3" class="e"/>
<line x1="1532.95" y1="884.3" x2="1545.95" y2="884.3" class="c"/>
<rect x="1529.65" y="913.3" width="19.6" height="64.9" fill="#ffffff" class="b"/>
<text x="1539.95" y="880.8" class="l">a</text>
<line x1="1565.35" y1="877.7" x2="1565.35" y2="848" class="e"/>
<line x1="1558.85" y1="848" x2="1571.85" y2="848" class="c"/>
<rect x="1555.55" y="878.4" width="19.6" height="99.8" fill="#8888ff" class="b"/>
<text x="1567.35" y="844.5" class="l">ab</text>
<line x1="1591.25" y1="823.7" x2="1591.25" y2="796.4" class="e"/>
<line x1="1584.75" y1="796.4" x2="1597.75" y2="796.4" class="c"/>
<rect x="1581.45" y="824.4" width="19.6" height="153.8" fill="#5252f6" class="b"/>
<text x="1591.75" y="792.9" class="l">b</text>
<line x1="1617.15" y1="847.1" x2="1617.15" y2="806.6" class="e"/>
<line x1="1610.65" y1="806.6" x2="1623.65" y2="806.6" class="c"/>
<rect x="1607.35" y="847.8" width="19.6" height="130.4" fill="#0000ff" class="b"/>
<text x="1617.65" y="803.1" class="l">b</text>
<line x1="1666.45" y1="897.6" x2="1666.45" y2="881" class="e"/>
<line x1="1659.95" y1="881" x2="1672.95" y2="881" class="c"/>
<rect x="1656.65" y="898.3" width="19.6" height="79.9" fill="#ffffff" class="b"/>
<text x="1666.95" y="877.5" class="l">a</text>
<line x1="1692.35" y1="893.7" x2="1692.35" y2="856.4" class="e"/>
<line x1="1685.85" y1="856.4" x2="1698.85" y2="856.4" class="c"/>
<rect x="1682.55" y="894.4" width="19.6" height="83.8" fill="#8888ff" class="b"/>
<text x="1692.85" y="852.9" class="l">a</text>
<line x1="1718.25" y1="872" x2="1718.25" y2="855.8" class="e"/>
<line x1="1711.75" y1="855.8" x2="1724.75" y2="855.8" class="c"/>
<rect x="1708.45" y="872.7" width="19.6" height="105.5" fill="#5252f6" class="b"/>
<text x="1718.75" y="852.3" class="l">a</text>
<line x1="1744.15" y1="871.7" x2="1744.15" y2="845.3" class="e"/>
<line x1="1737.65" y1="845.3" x2="1750.65" y2="845.3" class="c"/>
<rect x="1734.35" y="872.4" width="19.6" height="105.8" fill="#0000ff" class="b"/>
<text x="1744.65" y="841.8" class="l">a</text>
<line x1="1261.9" y1="548.6" x2="1261.9" y2="979.7" class="ax"/>
<line x1="1260.4" y1="978.2" x2="1769" y2="978.2" class="ax"/>
<line x1="1253.9" y1="978.2" x2="1261.9" y2="978.2" class="ax"/>
<text x="1252.9" y="987.8" class="tk">0</text>
<line x1="1253.9" y1="892.6" x2="1261.9" y2="892.6" class="ax"/>
<text x="1252.9" y="902.2" class="tk">1</text>
<line x1="1253.9" y1="807" x2="1261.9" y2="807" class="ax"/>
<text x="1252.9" y="816.6" class="tk">2</text>
<line x1="1253.9" y1="721.4" x2="1261.9" y2="721.4" class="ax"/>
<text x="1252.9" y="731" class="tk">3</text>
<line x1="1253.9" y1="635.8" x2="1261.9" y2="635.8" class="ax"/>
<text x="1252.9" y="645.4" class="tk">4</text>
<line x1="1253.9" y1="550.2" x2="1261.9" y2="550.2" class="ax"/>
<text x="1252.9" y="559.8" class="tk">5</text>
<line x1="1324.3" y1="978.2" x2="1324.3" y2="985.2" class="ax"/>
<text x="1324.3" y="1008.6" class="xl">1W</text>
<line x1="1450.6" y1="978.2" x2="1450.6" y2="985.2" class="ax"/>
<text x="1450.6" y="1008.6" class="xl">2W</text>
<line x1="1578" y1="978.2" x2="1578" y2="985.2" class="ax"/>
<text x="1578" y="1008.6" class="xl">3W</text>
<line x1="1704.7" y1="978.2" x2="1704.7" y2="985.2" class="ax"/>
<text x="1704.7" y="1008.6" class="xl">4W</text>
<text x="1515" y="574.2" class="ti">VAMP</text>
<text x="1200" y="532.9" class="pl">F</text>
<text transform="translate(1222.1 757.6) rotate(-90)" class="yt">Relative expression</text>
<rect x="1285.35" y="593.55" width="15.7" height="14.7" fill="#ffffff" class="lg"/>
<text x="1311.8" y="608.6" class="lt">Control</text>
<rect x="1451.35" y="593.55" width="15.7" height="14.7" fill="#8888ff" class="lg"/>
<rect x="1449.7" y="609.9" width="3" height="1.7" fill="#000"/>
<text x="1478.2" y="608.6" class="lt">LA</text>
<rect x="1573.35" y="593.55" width="15.7" height="14.7" fill="#5252f6" class="lg"/>
<rect x="1571.7" y="609.9" width="3" height="1.7" fill="#000"/>
<text x="1599.9" y="608.6" class="lt">MA</text>
<rect x="1700.65" y="593.55" width="15.7" height="14.7" fill="#0000ff" class="lg"/>
<rect x="1699" y="609.9" width="3" height="1.7" fill="#000"/>
<text x="1727.8" y="608.6" class="lt">HA</text>
</svg>
</body></html>
